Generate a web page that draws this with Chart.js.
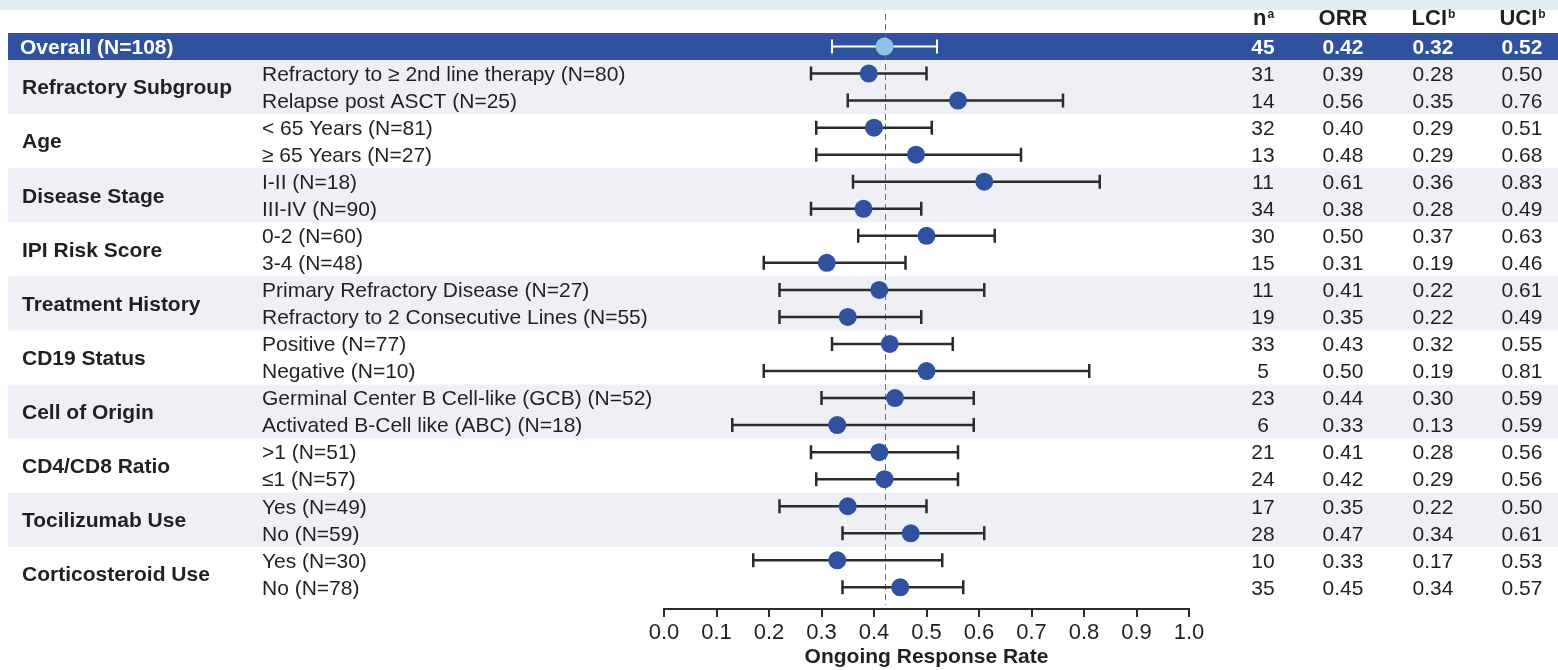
<!DOCTYPE html>
<html>
<head>
<meta charset="utf-8">
<script src="https://cdn.jsdelivr.net/npm/chart.js@4"></script>
<style>
    html, body { margin: 0; padding: 0; background: #fff; }
    #wrap { width: 1558px; height: 670px; }
</style>
</head>
<body>
<div id="wrap"><canvas id="forest" width="1558" height="670"></canvas></div>
<script>
// Subgroup data (row 0 is the overall population)
const groups = ['Refractory Subgroup', 'Age', 'Disease Stage', 'IPI Risk Score', 'Treatment History',
    'CD19 Status', 'Cell of Origin', 'CD4/CD8 Ratio', 'Tocilizumab Use', 'Corticosteroid Use'];
const rowLabels = ['Overall (N=108)',
    'Refractory to \u2265 2nd line therapy (N=80)', 'Relapse post ASCT (N=25)',
    '< 65 Years (N=81)', '\u2265 65 Years (N=27)',
    'I-II (N=18)', 'III-IV (N=90)',
    '0-2 (N=60)', '3-4 (N=48)',
    'Primary Refractory Disease (N=27)', 'Refractory to 2 Consecutive Lines (N=55)',
    'Positive (N=77)', 'Negative (N=10)',
    'Germinal Center B Cell-like (GCB) (N=52)', 'Activated B-Cell like (ABC) (N=18)',
    '>1 (N=51)', '\u22641 (N=57)',
    'Yes (N=49)', 'No (N=59)',
    'Yes (N=30)', 'No (N=78)'];
const nResp = [45, 31, 14, 32, 13, 11, 34, 30, 15, 11, 19, 33, 5, 23, 6, 21, 24, 17, 28, 10, 35];
const orr = [0.42, 0.39, 0.56, 0.40, 0.48, 0.61, 0.38, 0.50, 0.31, 0.41, 0.35, 0.43, 0.50, 0.44, 0.33, 0.41, 0.42, 0.35, 0.47, 0.33, 0.45];
const lci = [0.32, 0.28, 0.35, 0.29, 0.29, 0.36, 0.28, 0.37, 0.19, 0.22, 0.22, 0.32, 0.19, 0.30, 0.13, 0.28, 0.29, 0.22, 0.34, 0.17, 0.34];
const uci = [0.52, 0.50, 0.76, 0.51, 0.68, 0.83, 0.49, 0.63, 0.46, 0.61, 0.49, 0.55, 0.81, 0.59, 0.59, 0.56, 0.56, 0.50, 0.61, 0.53, 0.57];
const refLine = 0.42;
const xTicks = [0, 0.1, 0.2, 0.3, 0.4, 0.5, 0.6, 0.7, 0.8, 0.9, 1.0];

const BLUE = '#2f51a0';
const LIGHT = '#8cc4e6';
const GRAY_BAND = '#eff0f6';
const INK = '#231f20';
const FONT = '"Liberation Sans", Arial, sans-serif';
const TXT_DY = 1.5;   // canvas 'middle' sits a bit high for this font

const points = orr.map((v, i) => ({ x: v, y: i }));

const forestPlugin = {
    id: 'forest',
    beforeDatasetsDraw(chart) {
        const ctx = chart.ctx;
        const x = chart.scales.x;
        const y = chart.scales.y;
        ctx.save();
        // light strip along the top
        ctx.fillStyle = '#e0eff3';
        ctx.fillRect(0, 0, chart.width, 10);

        // overall band
        ctx.fillStyle = BLUE;
        ctx.fillRect(8, y.getPixelForValue(-0.5), chart.width - 8, y.getPixelForValue(0.5) - y.getPixelForValue(-0.5));

        // alternating group bands
        groups.forEach((g, k) => {
            if (k % 2 !== 0) return;
            const top = y.getPixelForValue(2 * k + 0.5);
            const bot = y.getPixelForValue(2 * k + 2.5);
            ctx.fillStyle = GRAY_BAND;
            ctx.fillRect(8, top, chart.width - 8, bot - top);
        });

        // reference line
        const rx = Math.round(x.getPixelForValue(refLine)) + 0.5;
        ctx.strokeStyle = '#6d6d6d';
        ctx.lineWidth = 1;
        ctx.setLineDash([6, 4]);
        ctx.beginPath();
        ctx.moveTo(rx, 14);
        ctx.lineTo(rx, chart.chartArea.bottom - 4);
        ctx.stroke();
        ctx.setLineDash([]);

        // confidence intervals
        orr.forEach((v, i) => {
            const py = y.getPixelForValue(i);
            const x1 = x.getPixelForValue(lci[i]);
            const x2 = x.getPixelForValue(uci[i]);
            ctx.strokeStyle = i === 0 ? '#ffffff' : '#2b2b2b';
            ctx.lineWidth = i === 0 ? 2 : 2.5;
            ctx.beginPath();
            ctx.moveTo(x1, py);
            ctx.lineTo(x2, py);
            ctx.moveTo(x1, py - 7);
            ctx.lineTo(x1, py + 7);
            ctx.moveTo(x2, py - 7);
            ctx.lineTo(x2, py + 7);
            ctx.stroke();
        });
        ctx.restore();
    },
    afterDraw(chart) {
        const ctx = chart.ctx;
        const y = chart.scales.y;
        ctx.save();
        ctx.textBaseline = 'middle';

        // left side labels
        rowLabels.forEach((lab, i) => {
            const py = y.getPixelForValue(i) + TXT_DY;
            ctx.textAlign = 'left';
            if (i === 0) {
                ctx.font = 'bold 21px ' + FONT;
                ctx.fillStyle = '#ffffff';
                ctx.fillText(lab, 20, py);
            } else {
                ctx.font = '21px ' + FONT;
                ctx.fillStyle = INK;
                ctx.fillText(lab, 262, py);
            }
        });
        groups.forEach((g, k) => {
            const py = y.getPixelForValue(2 * k + 1.5) + TXT_DY;
            ctx.font = 'bold 21px ' + FONT;
            ctx.fillStyle = INK;
            ctx.textAlign = 'left';
            ctx.fillText(g, 22, py);
        });

        // table columns
        const cols = [1263, 1343, 1433, 1522];
        const hy = 19;
        ctx.fillStyle = INK;
        const heads = [['n', 'a'], ['ORR', ''], ['LCI', 'b'], ['UCI', 'b']];
        heads.forEach((h, c) => {
            ctx.font = 'bold 22px ' + FONT;
            const w = ctx.measureText(h[0]).width;
            ctx.font = 'bold 12px ' + FONT;
            const ws = h[1] ? ctx.measureText(h[1]).width : 0;
            const start = cols[c] - (w + ws) / 2;
            ctx.textAlign = 'left';
            ctx.font = 'bold 22px ' + FONT;
            ctx.fillText(h[0], start, hy);
            if (h[1]) {
                ctx.font = 'bold 12px ' + FONT;
                ctx.fillText(h[1], start + w + 1, hy - 4);
            }
        });

        ctx.textAlign = 'center';
        orr.forEach((v, i) => {
            const py = y.getPixelForValue(i) + TXT_DY;
            ctx.font = (i === 0 ? 'bold ' : '') + '21px ' + FONT;
            ctx.fillStyle = i === 0 ? '#ffffff' : INK;
            ctx.fillText(String(nResp[i]), cols[0], py);
            ctx.fillText(v.toFixed(2), cols[1], py);
            ctx.fillText(lci[i].toFixed(2), cols[2], py);
            ctx.fillText(uci[i].toFixed(2), cols[3], py);
        });
        ctx.restore();
    }
};

new Chart(document.getElementById('forest'), {
    type: 'scatter',
    data: {
        datasets: [{
            data: points,
            pointRadius: 9,
            pointBorderWidth: 0,
            pointBackgroundColor: orr.map((v, i) => i === 0 ? LIGHT : BLUE),
            pointBorderColor: orr.map((v, i) => i === 0 ? LIGHT : BLUE)
        }]
    },
    options: {
        responsive: false,
        animation: false,
        events: [],
        layout: { padding: { left: 664, right: 369, top: 33, bottom: 0 } },
        plugins: { legend: { display: false }, tooltip: { enabled: false } },
        scales: {
            x: {
                type: 'linear',
                min: 0,
                max: 1,
                afterFit(scale) { scale.height = 61; },
                afterBuildTicks(scale) { scale.ticks = xTicks.map(v => ({ value: v })); },
                border: { display: true, color: '#2b2b2b', width: 2 },
                grid: { drawOnChartArea: false, drawTicks: true, tickLength: 8, color: '#2b2b2b', lineWidth: 2 },
                ticks: {
                    color: INK,
                    padding: 3,
                    maxRotation: 0,
                    font: { family: FONT, size: 22 },
                    callback: v => v.toFixed(1)
                },
                title: {
                    display: true,
                    text: 'Ongoing Response Rate',
                    color: INK,
                    padding: 0,
                    font: { family: FONT, size: 21, weight: 'bold' }
                }
            },
            y: {
                type: 'linear',
                display: false,
                reverse: true,
                min: -0.5,
                max: 20.8
            }
        }
    },
    plugins: [forestPlugin]
});
</script>
</body>
</html>
